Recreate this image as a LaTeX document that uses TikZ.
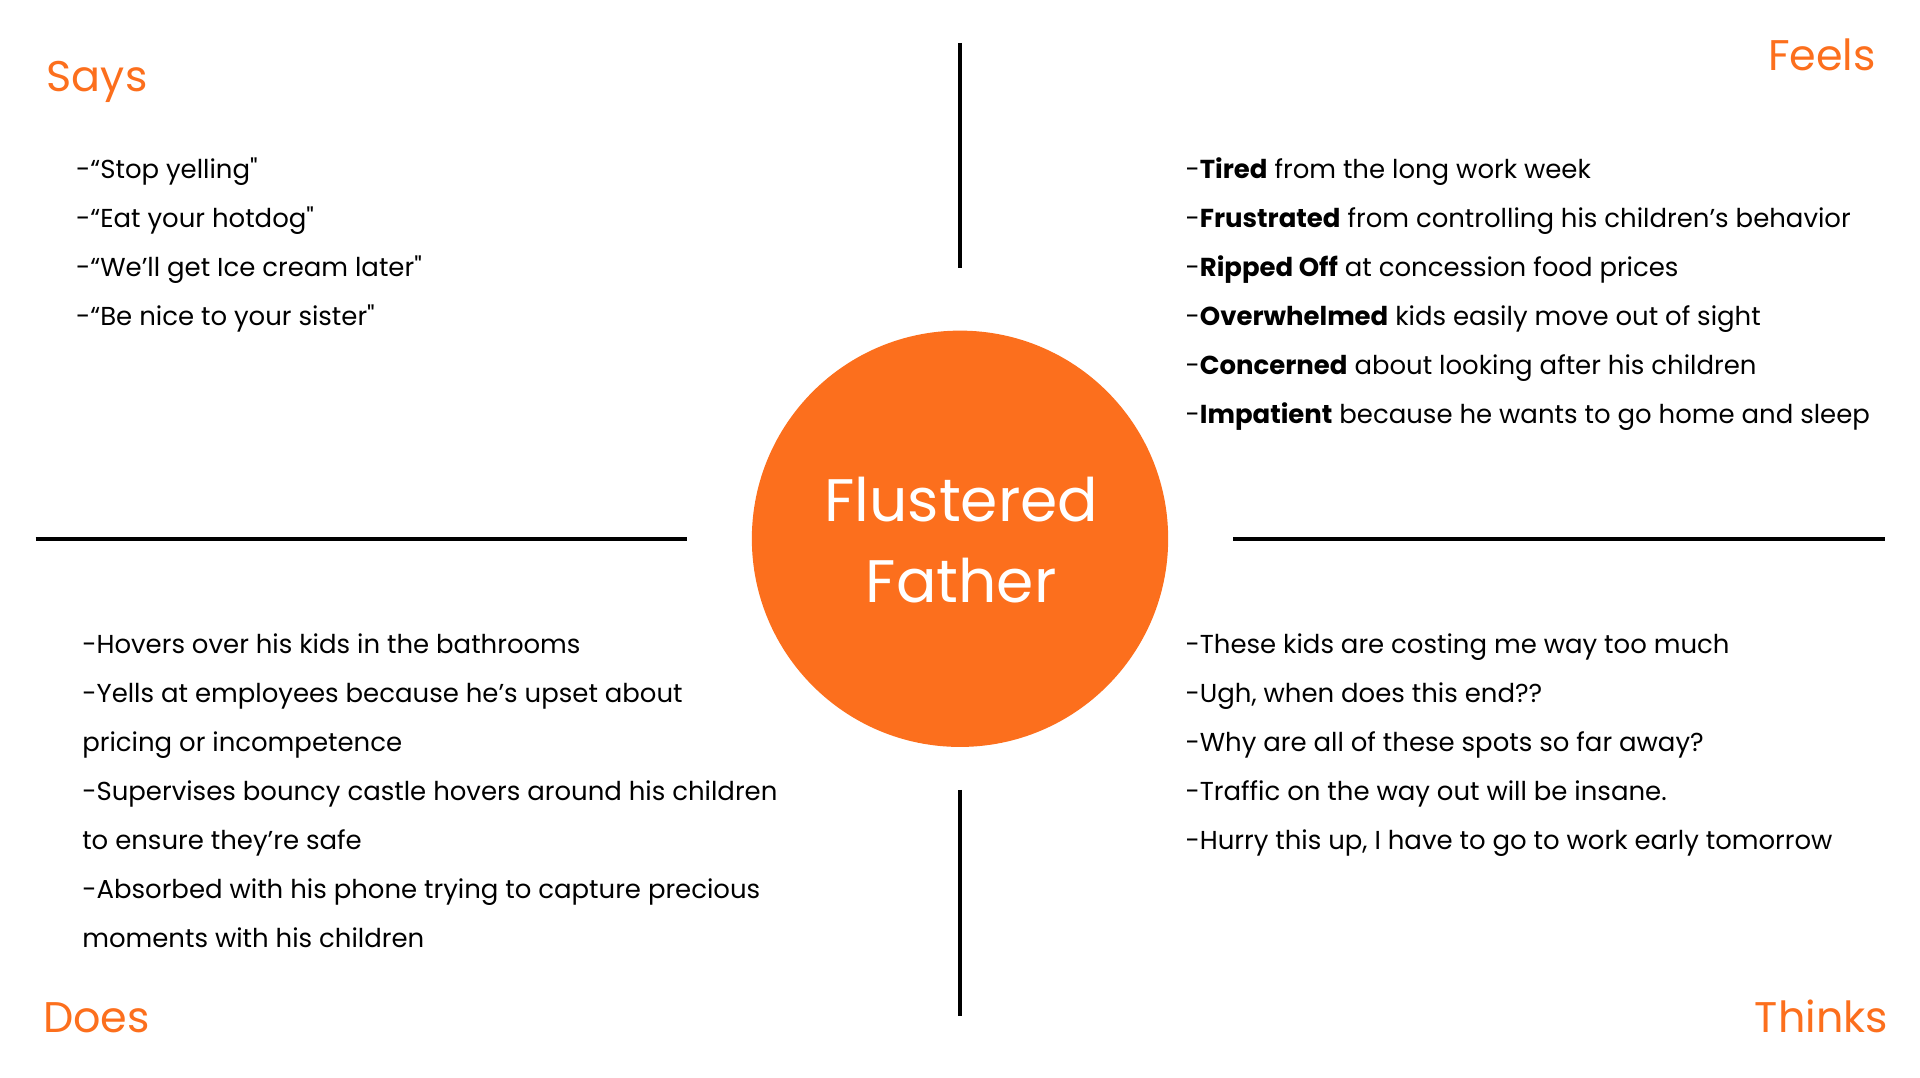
\documentclass[tikz,border=0pt]{standalone}
\usepackage{fontspec}
\setmainfont{Poppins}
\newfontfamily\plainpop{Poppins}
\newcommand{\sq}{{\plainpop"}}
\definecolor{flusterorange}{RGB}{252,111,29}

\begin{document}
\begin{tikzpicture}[x=1pt,y=-1pt,
  quad/.style={text=flusterorange,font=\fontsize{35}{40}\selectfont,inner sep=0pt},
  item/.style={anchor=west,inner sep=0pt,font=\fontsize{21.2}{25}\selectfont,text height=19pt,text depth=3pt},
  divider/.style={line width=3pt,black}]
\useasboundingbox (0,0) rectangle (1568,880);
\node [circle,fill=flusterorange,minimum size=340pt,inner sep=0pt] (hub) at (784,440) {};
\node [text=white,font=\fontsize{49}{66}\selectfont,align=center] (name) at (785,441) {Flustered\\Father};
\node [quad,anchor=west] (says) at (38,67) {Says};
\node [quad,anchor=east] (feels) at (1532,45) {Feels};
\node [quad,anchor=west] (does) at (35,831) {Does};
\node [quad,anchor=east] (thinks) at (1542,830) {Thinks};
\coordinate (nT) at (784,35);
\coordinate (nT2) at (784,219);
\coordinate (nB) at (784,645);
\coordinate (nB2) at (784,830);
\coordinate (wL) at (29,440);
\coordinate (wL2) at (561,440);
\coordinate (eR) at (1007,440);
\coordinate (eR2) at (1539,440);
\draw [divider] (nT) -- (nT2);
\draw [divider] (nB) -- (nB2);
\draw [divider] (wL) -- (wL2);
\draw [divider] (eR) -- (eR2);
\node [item] (s1) at (62,138) {-“Stop yelling\sq};
\node [item] (s2) at (62,178) {-“Eat your hotdog\sq};
\node [item] (s3) at (62,218) {-“We’ll get Ice cream later\sq};
\node [item] (s4) at (62,258) {-“Be nice to your sister\sq};
\node [item] (f1) at (968,138) {-\textbf{Tired} from the long work week};
\node [item] (f2) at (968,178) {-\textbf{Frustrated} from controlling his children’s behavior};
\node [item] (f3) at (968,218) {-\textbf{Ripped Off} at concession food prices};
\node [item] (f4) at (968,258) {-\textbf{Overwhelmed} kids easily move out of sight};
\node [item] (f5) at (968,298) {-\textbf{Concerned} about looking after his children};
\node [item] (f6) at (968,338) {-\textbf{Impatient} because he wants to go home and sleep};
\node [item] (d1) at (67,526) {-Hovers over his kids in the bathrooms};
\node [item] (d2) at (67,566) {-Yells at employees because he’s upset about};
\node [item] (d3) at (67,606) {pricing or incompetence};
\node [item] (d4) at (67,646) {-Supervises bouncy castle hovers around his children};
\node [item] (d5) at (67,686) {to ensure they’re safe};
\node [item] (d6) at (67,726) {-Absorbed with his phone trying to capture precious};
\node [item] (d7) at (67,766) {moments with his children};
\node [item] (t1) at (968,526) {-These kids are costing me way too much};
\node [item] (t2) at (968,566) {-Ugh, when does this end??};
\node [item] (t3) at (968,606) {-Why are all of these spots so far away?};
\node [item] (t4) at (968,646) {-Traffic on the way out will be insane.};
\node [item] (t5) at (968,686) {-Hurry this up, I have to go to work early tomorrow};
\end{tikzpicture}
\end{document}
